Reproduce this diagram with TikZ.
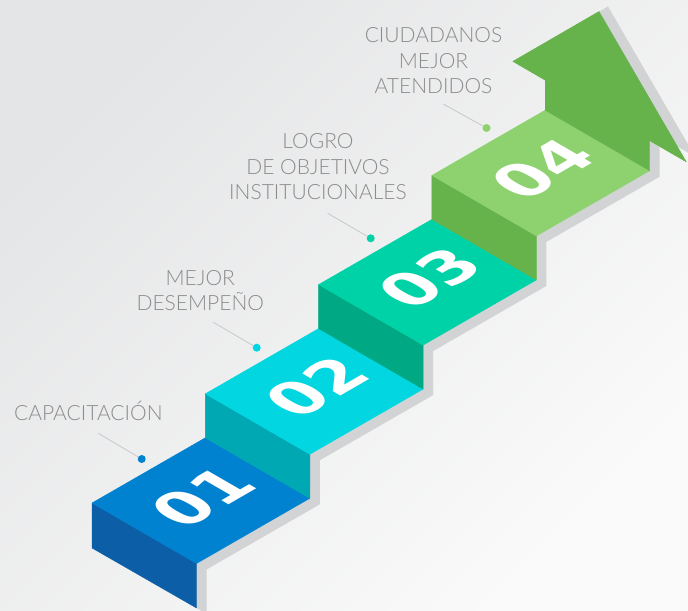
\documentclass[tikz,border=0pt]{standalone}
\usepackage{fontspec}
\newfontfamily\labelfont{Lato Light}
\newfontfamily\digitfont{DejaVu Sans}
\usetikzlibrary{positioning, calc}

\definecolor{bgdark}{HTML}{E4E5E6}
\definecolor{bglight}{HTML}{FAFAFA}
\definecolor{labelgray}{HTML}{8C8C8C}
\definecolor{linegray}{HTML}{C8C8C8}
\definecolor{sidegray}{HTML}{D2D3D5}
\definecolor{treadone}{HTML}{0082D0}
\definecolor{riserone}{HTML}{0C5FA6}
\definecolor{treadtwo}{HTML}{02D6E0}
\definecolor{risertwo}{HTML}{00A8B3}
\definecolor{treadthree}{HTML}{00D2A7}
\definecolor{riserthree}{HTML}{00A884}
\definecolor{treadfour}{HTML}{8DD26F}
\definecolor{riserfour}{HTML}{66B34B}

\begin{document}
\begin{tikzpicture}
[x=0.5pt, y=0.5pt,
 steptext/.style={font=\labelfont\fontsize{10.5}{12.6}\selectfont,
 text=labelgray, align=center, anchor=base, inner sep=0pt},
 stepnumber/.style={font=\digitfont\bfseries\fontsize{31.5}{31.5}\selectfont,
 text=white, inner sep=0pt, cm={0.866,0.5,-0.866,0.5,(0,0)}},
 bullet/.style={circle, inner sep=0pt, minimum size=4pt},
 leader/.style={draw=linegray, line width=0.4pt},
 face/.style={line width=0.2pt, line join=round},
 across/.style={shift={(10,-6)}},
 behind/.style={shift={(9,5)}},
]

\useasboundingbox (0,0) rectangle (688,610);
\clip (0,0) rectangle (688,610);
\shade[top color=bgdark, bottom color=bglight, shading angle=45]
 (0,0) rectangle (688,610);

\coordinate (l1b) at (92,62);
\coordinate (f1b) at (196.5,2);
\coordinate (l1) at (92,107);
\coordinate (f1) at (196.5,46.5);
\coordinate (b1) at (205.3,172.2);
\coordinate (r1) at (309.8,111.7);
\coordinate (l2) at (205.3,216.2);
\coordinate (f2) at (309.8,155.7);
\coordinate (b2) at (318.6,281.4);
\coordinate (r2) at (423.1,220.9);
\coordinate (l3) at (318.6,325.4);
\coordinate (f3) at (423.1,264.9);
\coordinate (b3) at (431.9,390.6);
\coordinate (r3) at (536.4,330.1);
\coordinate (l4) at (431.9,434.6);
\coordinate (f4) at (536.4,374.1);
\coordinate (b4) at (545.2,499.8);
\coordinate (r4) at (649.7,439.3);
\coordinate (s1) at (545.2,529.8);
\coordinate (s2) at (649.7,469.3);
\coordinate (wl) at (512.8,548.6);
\coordinate (wr) at (686.3,448.1);
\coordinate (tip) at (599,598.5);

\fill[sidegray]
 (f1b) -- (f1) -- (r1) -- (f2) -- (r2) -- (f3) -- (r3) -- (f4) -- (r4) -- (s2)
 -- ([across]s2) -- ([across]r4) -- ([across]f4) -- ([across]r3) -- ([across]f3)
 -- ([across]r2) -- ([across]f2) -- ([across]r1) -- ([across]f1) -- ([across]f1b) -- cycle;
\fill[sidegray]
 ([behind]b4) -- ([behind]s1) -- ([behind]wl) -- ([behind]tip) -- ([behind]wr)
 -- ([behind]s2) -- ([behind]r4) -- cycle;

\filldraw[face, riserone] (l1b) -- (f1b) -- (f1) -- (l1) -- cycle;
\filldraw[face, treadone] (l1) -- (f1) -- (r1) -- (b1) -- cycle;
\filldraw[face, risertwo] (b1) -- (r1) -- (f2) -- (l2) -- cycle;
\filldraw[face, treadtwo] (l2) -- (f2) -- (r2) -- (b2) -- cycle;
\filldraw[face, riserthree] (b2) -- (r2) -- (f3) -- (l3) -- cycle;
\filldraw[face, treadthree] (l3) -- (f3) -- (r3) -- (b3) -- cycle;
\filldraw[face, riserfour] (b3) -- (r3) -- (f4) -- (l4) -- cycle;
\filldraw[face, treadfour] (l4) -- (f4) -- (r4) -- (b4) -- cycle;
\filldraw[face, riserfour] (b4) -- (s1) -- (wl) -- (tip) -- (wr) -- (s2) -- (r4) -- cycle;

\node[stepnumber] (one)   at ($(l1)!0.5!(r1)+(2,4)$) {01};
\node[stepnumber] (two)   at ($(l2)!0.5!(r2)+(2,4)$) {02};
\node[stepnumber] (three) at ($(l3)!0.5!(r3)+(2,4)$) {03};
\node[stepnumber] (four)  at ($(l4)!0.5!(r4)+(2,4)$) {04};

\node[steptext] (capacitacion) at (88.3,190) {CAPACITACIÓN};
\node[steptext] (desempeno)    at (200.3,299.3) {MEJOR\\DESEMPEÑO};
\node[steptext] (objetivos)    at (318,410.7) {LOGRO\\DE OBJETIVOS\\INSTITUCIONALES};
\node[steptext] (ciudadanos)   at (433.5,516.7) {CIUDADANOS\\MEJOR\\ATENDIDOS};

\node[bullet, fill=treadone]   (dotone)   at (141.7,151) {};
\node[bullet, fill=treadtwo]   (dottwo)   at (256.7,262.3) {};
\node[bullet, fill=treadthree] (dotthree) at (370.7,371.7) {};
\node[bullet, fill=treadfour]  (dotfour)  at (486.5,482) {};

\coordinate (tailone)   at (98.3,176.7);
\coordinate (tailtwo)   at (213.3,287.7);
\coordinate (tailthree) at (327.7,396.7);
\coordinate (tailfour)  at (443.3,506);

\draw[leader] (tailone) -- (dotone);
\draw[leader] (tailtwo) -- (dottwo);
\draw[leader] (tailthree) -- (dotthree);
\draw[leader] (tailfour) -- (dotfour);
\end{tikzpicture}
\end{document}
